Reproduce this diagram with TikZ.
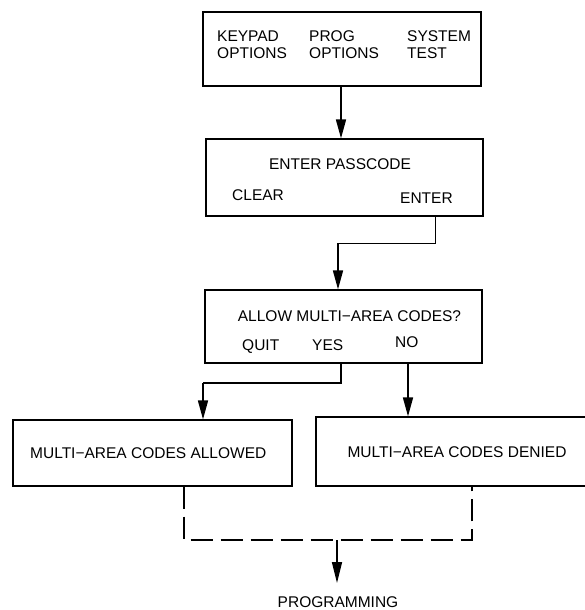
\documentclass[tikz,border=0pt]{standalone}
\usepackage{fontspec}
\setmainfont{Liberation Sans}
\usetikzlibrary{arrows.meta}
\begin{document}
\begin{tikzpicture}[x=1pt,y=-1pt,
  box/.style={draw,line width=1.2pt,inner sep=0pt},
  lbl/.style={inner sep=0pt,font=\fontsize{15.5}{18}\selectfont},
  link/.style={line width=1.6pt},
  thinlink/.style={line width=1pt},
  arr/.style={-{Triangle[length=19pt,width=10pt]}},
  dlink/.style={line width=1.2pt,dash pattern=on 22pt off 8pt}]
\useasboundingbox (0,0) rectangle (584,610);

% menu screens
\node[box,minimum width=278pt,minimum height=74pt] (b1) at (342,49) {};
\node[box,minimum width=277pt,minimum height=77pt] (b2) at (344.5,177.5) {};
\node[box,minimum width=277pt,minimum height=73pt] (b3) at (343.5,326.5) {};
\node[box,minimum width=279pt,minimum height=66pt] (b4) at (152.5,453) {};
\node[box,minimum width=282pt,minimum height=69pt] (b5) at (457,451.5) {};

% first screen: three columns
\node[lbl,anchor=base west] (t1a) at (217,42) {KEYPAD};
\node[lbl,anchor=base west] (t1b) at (217,59) {OPTIONS};
\node[lbl,anchor=base west] (t2a) at (309,42) {PROG};
\node[lbl,anchor=base west] (t2b) at (309,59) {OPTIONS};
\node[lbl,anchor=base west] (t3a) at (407,42) {SYSTEM};
\node[lbl,anchor=base west] (t3b) at (407,59) {TEST};

% passcode screen
\node[lbl,anchor=base] (pc) at (340,169) {ENTER PASSCODE};
\node[lbl,anchor=base west] (clr) at (232,200) {CLEAR};
\node[lbl,anchor=base west] (ent) at (400,203) {ENTER};

% question screen
\node[lbl,anchor=base] (q) at (349.5,321) {ALLOW MULTI−AREA CODES?};
\node[lbl,anchor=base west] (quit) at (242,350) {QUIT};
\node[lbl,anchor=base west] (yes) at (312,350) {YES};
\node[lbl,anchor=base west] (no) at (395,347) {NO};

% results
\node[lbl,anchor=base west] (al) at (30,458) {MULTI−AREA CODES ALLOWED};
\node[lbl,anchor=base] (dn) at (457,457) {MULTI−AREA CODES DENIED};
\node[lbl,anchor=base] (prog) at (338,607) {PROGRAMMING};

% connectors
\draw[link,arr] (341,0 |- b1.south) -- (341,0 |- b2.north);

\coordinate (k1) at (435,243);
\coordinate (k2) at (338,243);
\draw[thinlink] (k1 |- b2.south) -- (k1) -- (k2);
\draw[link,arr] (k2) -- (k2 |- b3.north);

\coordinate (y1) at (341,383);
\coordinate (y2) at (203,383);
\draw[link] (y1 |- b3.south) -- (y1) -- (y2);
\draw[link,arr] (y2) -- (y2 |- b4.north);

\coordinate (n1) at (408,0);
\draw[link,arr] (n1 |- b3.south) -- (n1 |- b5.north);

% merge to programming
\coordinate (m1) at (184,540);
\coordinate (m2) at (472,540);
\coordinate (m3) at (337,540);
\draw[dlink] (m1 |- b4.south) -- (m1) -- (m2) -- (m2 |- b5.south);
\draw[link,-{Triangle[length=21pt,width=10pt]}] (m3) -- (337,583);
\end{tikzpicture}
\end{document}
